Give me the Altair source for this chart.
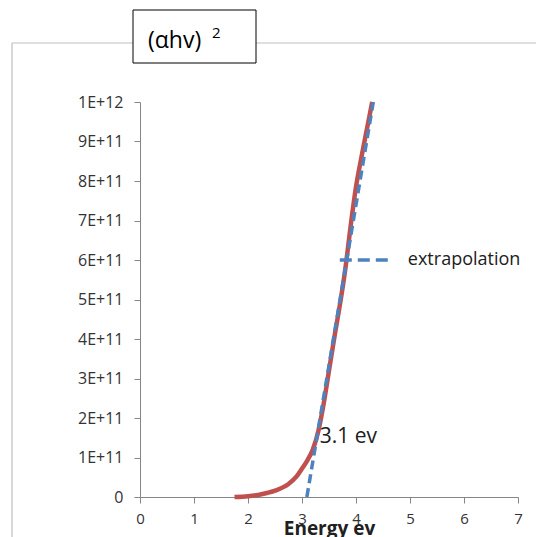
import altair as alt
import pandas as pd

# Measured curve (alpha h nu)^2 vs energy
energy = [1.75, 2.0, 2.25, 2.5, 2.75, 2.9, 3.0, 3.1, 3.2, 3.3, 3.4, 3.5, 3.6, 3.7, 3.8, 3.9, 4.0, 4.1, 4.2, 4.3]
absorb = [0.0, 0.02e11, 0.07e11, 0.16e11, 0.33e11, 0.52e11, 0.72e11, 0.93e11, 1.2e11, 1.65e11,
          2.35e11, 3.2e11, 4.05e11, 4.85e11, 5.75e11, 6.85e11, 7.85e11, 8.6e11, 9.3e11, 10.0e11]

# Extrapolation line
extrap_x = [3.09, 4.32]
extrap_y = [0.0, 1.0e12]

# Leader line to label
leader_x = [3.70, 4.69]
leader_y = [6.0e11, 6.0e11]

y_ticks = [i * 1e11 for i in range(11)]
y_tick_labels = ["0", "1E+11", "2E+11", "3E+11", "4E+11", "5E+11", "6E+11", "7E+11", "8E+11", "9E+11", "1E+12"]
x_ticks = [0, 1, 2, 3, 4, 5, 6, 7]

FONT = "Open Sans"
RED = "#C0504D"
BLUE = "#4F81BD"

curve_df = pd.DataFrame({"E": energy, "A": absorb})
ext_df = pd.DataFrame({"E": extrap_x, "A": extrap_y})
lead_df = pd.DataFrame({"E": leader_x, "A": leader_y})
lab_df = pd.DataFrame({"E": [4.96, 3.33], "A": [6.0e11, 1.52e11], "t": ["extrapolation", "3.1 ev"], "s": [18, 21]})

label_expr = "[" + ",".join("'%s'" % s for s in y_tick_labels) + "][round(datum.value/1e11)]"

xs = alt.Scale(domain=[0, 7], nice=False)
ys = alt.Scale(domain=[0, 1e12], nice=False)

x_axis = alt.Axis(values=x_ticks, format="d", title="Energy ev", grid=False, labelFont=FONT, labelFontSize=15,
                  labelColor="#333333", titleFont=FONT, titleFontSize=19, titleFontWeight="bold",
                  titleColor="#202020", domainColor="#868686", tickColor="#868686", tickSize=6,
                  labelPadding=8, titlePadding=-7, labelFlush=False, labelOverlap=False)
y_axis = alt.Axis(values=y_ticks, labelExpr=label_expr, title=None, grid=False, labelFont=FONT,
                  labelFontSize=16, labelColor="#333333", domainColor="#868686", tickColor="#868686",
                  tickSize=6, labelPadding=11, labelOverlap=False)

X = alt.X("E:Q", scale=xs, axis=x_axis)
Y = alt.Y("A:Q", scale=ys, axis=y_axis)

curve = alt.Chart(curve_df).mark_line(color=RED, strokeWidth=4.5, interpolate="monotone").encode(x=X, y=Y)

ext = alt.Chart(ext_df).mark_line(color=BLUE, strokeWidth=3.5, strokeDash=[9, 5]).encode(x=X, y=Y)

lead = alt.Chart(lead_df).mark_line(color=BLUE, strokeWidth=3.5, strokeDash=[12, 6]).encode(x=X, y=Y)

labels = alt.Chart(lab_df).mark_text(align="left", baseline="middle", font=FONT, color="#202020").encode(
    x=X, y=Y, text="t:N", size=alt.Size("s:Q", scale=None, legend=None))

# Chart border (outer frame) and title box
deco_df = pd.DataFrame({"k": [0]})
frame_top = alt.Chart(deco_df).mark_rule(color="#BFBFBF", strokeWidth=1.2, clip=False).encode(
    x=alt.value(-128), x2=alt.value(400), y=alt.value(-59))
frame_left = alt.Chart(deco_df).mark_rule(color="#BFBFBF", strokeWidth=1.2, clip=False).encode(
    x=alt.value(-128), y=alt.value(-59), y2=alt.value(440))
box = alt.Chart(deco_df).mark_rect(fill="white", stroke="black", strokeWidth=1, clip=False).encode(
    x=alt.value(-7), x2=alt.value(116), y=alt.value(-92), y2=alt.value(-39))
t1 = alt.Chart(deco_df).mark_text(text="(αhv)", align="left", baseline="middle", font=FONT,
                                  fontSize=23, color="black", clip=False).encode(
    x=alt.value(8), y=alt.value(-61))
t2 = alt.Chart(deco_df).mark_text(text="2", align="left", baseline="middle", font=FONT,
                                  fontSize=15, color="black", clip=False).encode(
    x=alt.value(72), y=alt.value(-69))

chart = alt.layer(frame_top, frame_left, box, t1, t2, curve, ext, lead, labels).properties(
    width=378, height=395,
    autosize=alt.AutoSizeParams(type="none"),
    padding={"left": 140, "top": 102, "right": 18, "bottom": 40},
    background="white",
).configure_view(stroke=None)

chart.save("out.html", embed_options={"renderer": "svg", "actions": False})
